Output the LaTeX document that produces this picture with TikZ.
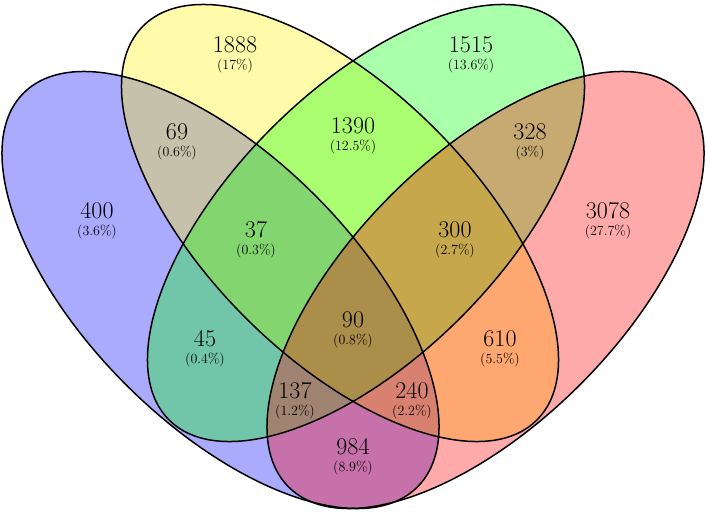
\documentclass[tikz,border=0pt]{standalone}
\usepackage{tikz}
\usetikzlibrary{positioning}

\begin{document}
\begin{tikzpicture}[x=1pt,y=-1pt,
	setfill/.style={fill opacity=0.3333},
	setline/.style={draw=black, line width=1.5pt},
	cnt/.style={inner sep=0pt, font=\fontsize{24}{26}\selectfont},
	pct/.style={inner sep=0pt, font=\fontsize{14}{16}\selectfont},
	tiltL/.style={rotate around={-45:(#1)}},
	tiltR/.style={rotate around={45:(#1)}}
	]
\useasboundingbox (0,0) rectangle (706,511);

% centres of the four sets
\coordinate (cA) at (220.5,290);
\coordinate (cB) at (340,223);
\coordinate (cC) at (366,223);
\coordinate (cD) at (485.5,290);

% fills
\fill[setfill, blue, tiltL=cA]   (cA) ellipse [x radius=278.5pt, y radius=133.8pt];
\fill[setfill, yellow, tiltL=cB] (cB) ellipse [x radius=278.5pt, y radius=133.8pt];
\fill[setfill, green, tiltR=cC]  (cC) ellipse [x radius=278.5pt, y radius=133.8pt];
\fill[setfill, red, tiltR=cD]    (cD) ellipse [x radius=278.5pt, y radius=133.8pt];

% outlines
\draw[setline, tiltL=cA] (cA) ellipse [x radius=278.5pt, y radius=133.8pt];
\draw[setline, tiltL=cB] (cB) ellipse [x radius=278.5pt, y radius=133.8pt];
\draw[setline, tiltR=cC] (cC) ellipse [x radius=278.5pt, y radius=133.8pt];
\draw[setline, tiltR=cD] (cD) ellipse [x radius=278.5pt, y radius=133.8pt];

% counts
\node[cnt] at (97,211)  (n400)  {400};
\node[cnt] at (235,45)  (n1888) {1888};
\node[cnt] at (471,45)  (n1515) {1515};
\node[cnt] at (608,211) (n3078) {3078};
\node[cnt] at (177,132) (n69)   {69};
\node[cnt] at (353,126) (n1390) {1390};
\node[cnt] at (530,132) (n328)  {328};
\node[cnt] at (256,230) (n37)   {37};
\node[cnt] at (455,230) (n300)  {300};
\node[cnt] at (205,339) (n45)   {45};
\node[cnt] at (353,320) (n90)   {90};
\node[cnt] at (500,339) (n610)  {610};
\node[cnt] at (295,391) (n137)  {137};
\node[cnt] at (412,391) (n240)  {240};
\node[cnt] at (353,447) (n984)  {984};

% percentages
\node[pct, below=5pt of n400]  (p400)  {(3.6\%)};
\node[pct, below=5pt of n1888] (p1888) {(17\%)};
\node[pct, below=5pt of n1515] (p1515) {(13.6\%)};
\node[pct, below=5pt of n3078] (p3078) {(27.7\%)};
\node[pct, below=5pt of n69]   (p69)   {(0.6\%)};
\node[pct, below=5pt of n1390] (p1390) {(12.5\%)};
\node[pct, below=5pt of n328]  (p328)  {(3\%)};
\node[pct, below=5pt of n37]   (p37)   {(0.3\%)};
\node[pct, below=5pt of n300]  (p300)  {(2.7\%)};
\node[pct, below=5pt of n45]   (p45)   {(0.4\%)};
\node[pct, below=5pt of n90]   (p90)   {(0.8\%)};
\node[pct, below=5pt of n610]  (p610)  {(5.5\%)};
\node[pct, below=5pt of n137]  (p137)  {(1.2\%)};
\node[pct, below=5pt of n240]  (p240)  {(2.2\%)};
\node[pct, below=5pt of n984]  (p984)  {(8.9\%)};

\end{tikzpicture}
\end{document}
